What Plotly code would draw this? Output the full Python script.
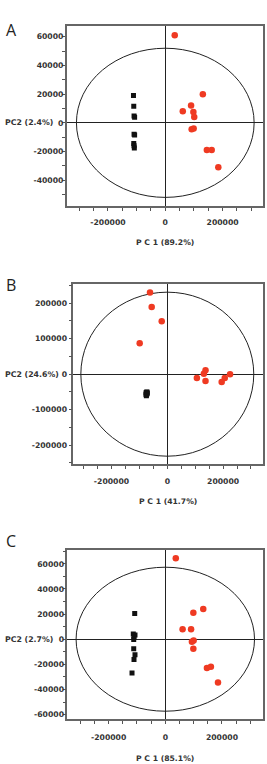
import plotly.graph_objects as go

# ---------------- data ----------------
# Panel A  (PC1 89.2 %, PC2 2.4 %)
red_x_A = [33000, 131000, 90000, 61000, 98000, 101000, 92000, 99000, 145000, 162000, 185000]
red_y_A = [61000, 20000, 12000, 8000, 7500, 4000, -4500, -4000, -19000, -19000, -31000]
black_x_A = [-111000, -110000, -109000, -107000, -109000, -107000, -110000, -109000, -108000]
black_y_A = [19000, 11500, 4800, 3800, -8000, -8500, -14500, -16000, -17500]

# Panel B  (PC1 41.7 %, PC2 24.6 %)
red_x_B = [-62000, -56000, -20000, -99000, 137000, 131000, 106000, 137000, 225000, 206000, 195000]
red_y_B = [230000, 189000, 149000, 87000, 11000, 1000, -11000, -19000, 0, -11000, -22000]
black_x_B = [-76000, -75000, -74000, -73000, -76000, -75000, -72000, -74000, -75000, -73000]
black_y_B = [-52000, -54000, -51000, -50000, -57000, -59000, -53000, -56000, -61000, -55000]

# Panel C  (PC1 85.1 %, PC2 2.7 %)
red_x_C = [37000, 134000, 99000, 61000, 91000, 94000, 100000, 99000, 147000, 161000, 186000]
red_y_C = [64500, 24000, 21000, 8000, 8000, -2000, -1000, -7500, -23000, -22000, -34500]
black_x_C = [-108000, -113000, -107000, -110500, -111500, -111500, -107000, -110500, -117500]
black_y_C = [20500, 4200, 3400, 1600, -300, -7500, -12300, -16200, -26800]

# Hotelling ellipse semi-axes (PC1, PC2)
ellipse_A = (310000, 52000)
ellipse_B = (310000, 231000)
ellipse_C = (315000, 57300)

letters = ["A", "B", "C"]
pc1_titles = ["P C 1 (89.2%)", "P C 1 (41.7%)", "P C 1 (85.1%)"]
pc2_titles = ["PC2 (2.4%)", "PC2 (24.6%)", "PC2 (2.7%)"]

x_labels = [-200000, 0, 200000]
y_labels_A = [-40000, -20000, 0, 20000, 40000, 60000]
y_labels_B = [-200000, -100000, 0, 100000, 200000]
y_labels_C = [-60000, -40000, -20000, 0, 20000, 40000, 60000]

# ---------------- layout helpers ----------------
W, H = 267, 764
RED = "#ef3a22"
BLACK = "#111111"
TXT = "#333333"
FONT = "DejaVu Sans"

panels = [
    dict(rx=red_x_A, ry=red_y_A, bx=black_x_A, by=black_y_A, ell=ellipse_A,
         xr=[-344000, 342000], yr=[-58000, 67500], ylab=y_labels_A, ymin=10000,
         px=(66.7, 263.3), py=(26, 206), letter_y=29.5, xtitle_y=242.5, ystand=-3, xstand=5),
    dict(rx=red_x_B, ry=red_y_B, bx=black_x_B, by=black_y_B, ell=ellipse_B,
         xr=[-337000, 342000], yr=[-253000, 254000], ylab=y_labels_B, ymin=50000,
         px=(73.3, 262.7), py=(284, 464), letter_y=285, xtitle_y=501.5, ystand=0, xstand=6),
    dict(rx=red_x_C, ry=red_y_C, bx=black_x_C, by=black_y_C, ell=ellipse_C,
         xr=[-346000, 346000], yr=[-63500, 71000], ylab=y_labels_C, ymin=10000,
         px=(67.3, 263.3), py=(550, 719), letter_y=541, xtitle_y=758, ystand=-3, xstand=7),
]

fig = go.Figure()
annotations = []
shapes = []
layout = dict(width=W, height=H, margin=dict(l=0, r=0, t=0, b=0),
              paper_bgcolor="white", plot_bgcolor="white", showlegend=False)

tickfont = dict(family=FONT, size=7.7, color=TXT, weight="bold")

for i, p in enumerate(panels):
    n = "" if i == 0 else str(i + 1)
    xa, ya = "x" + n, "y" + n
    fig.add_trace(go.Scatter(x=p["bx"], y=p["by"], mode="markers", xaxis=xa, yaxis=ya,
                             marker=dict(symbol="square", size=5, color=BLACK)))
    fig.add_trace(go.Scatter(x=p["rx"], y=p["ry"], mode="markers", xaxis=xa, yaxis=ya,
                             marker=dict(symbol="circle", size=6.5, color=RED)))
    xd = [p["px"][0] / W, p["px"][1] / W]
    yd = [1 - p["py"][1] / H, 1 - p["py"][0] / H]
    common = dict(showgrid=False, zeroline=True, zerolinecolor="#222222", zerolinewidth=1,
                  showline=True, mirror=True, linecolor="#666666", linewidth=1.5,
                  ticks="outside", ticklen=3, tickcolor="#555555", tickwidth=1,
                  tickfont=tickfont)
    layout["xaxis" + n] = dict(common, domain=xd, range=p["xr"], anchor=ya,
                               tickmode="array", tickvals=x_labels,
                               ticktext=[str(v) for v in x_labels],
                               ticklabelstandoff=p["xstand"],
                               minor=dict(tickmode="linear", tick0=0, dtick=50000,
                                          ticks="outside", ticklen=3, tickcolor="#555555"))
    layout["yaxis" + n] = dict(common, domain=yd, range=p["yr"], anchor=xa,
                               tickmode="array", tickvals=p["ylab"],
                               ticktext=[str(v) for v in p["ylab"]],
                               ticklabelstandoff=p["ystand"],
                               minor=dict(tickmode="linear", tick0=0, dtick=p["ymin"],
                                          ticks="outside", ticklen=3, tickcolor="#555555"))
    a, b = p["ell"]
    shapes.append(dict(type="circle", xref=xa, yref=ya, x0=-a, x1=a, y0=-b, y1=b,
                       line=dict(color="#222222", width=1), layer="below"))
    annotations.append(dict(text=letters[i], x=4 / W, y=1 - p["letter_y"] / H,
                            xref="paper", yref="paper", xanchor="left", yanchor="middle",
                            showarrow=False, font=dict(family="Open Sans", size=16, color="#222222")))
    annotations.append(dict(text=pc2_titles[i], x=3 / W, y=0, xref="paper", yref=ya,
                            xanchor="left", yanchor="middle", showarrow=False,
                            font=dict(family=FONT, size=7.8, color=TXT, weight="bold")))
    annotations.append(dict(text=pc1_titles[i], x=0.5, y=1 - p["xtitle_y"] / H,
                            xref=xa + " domain", yref="paper", xanchor="center", yanchor="middle",
                            showarrow=False,
                            font=dict(family=FONT, size=7.7, color=TXT, weight="bold")))

layout["annotations"] = annotations
layout["shapes"] = shapes
fig.update_layout(**layout)
fig.write_html("out.html")
